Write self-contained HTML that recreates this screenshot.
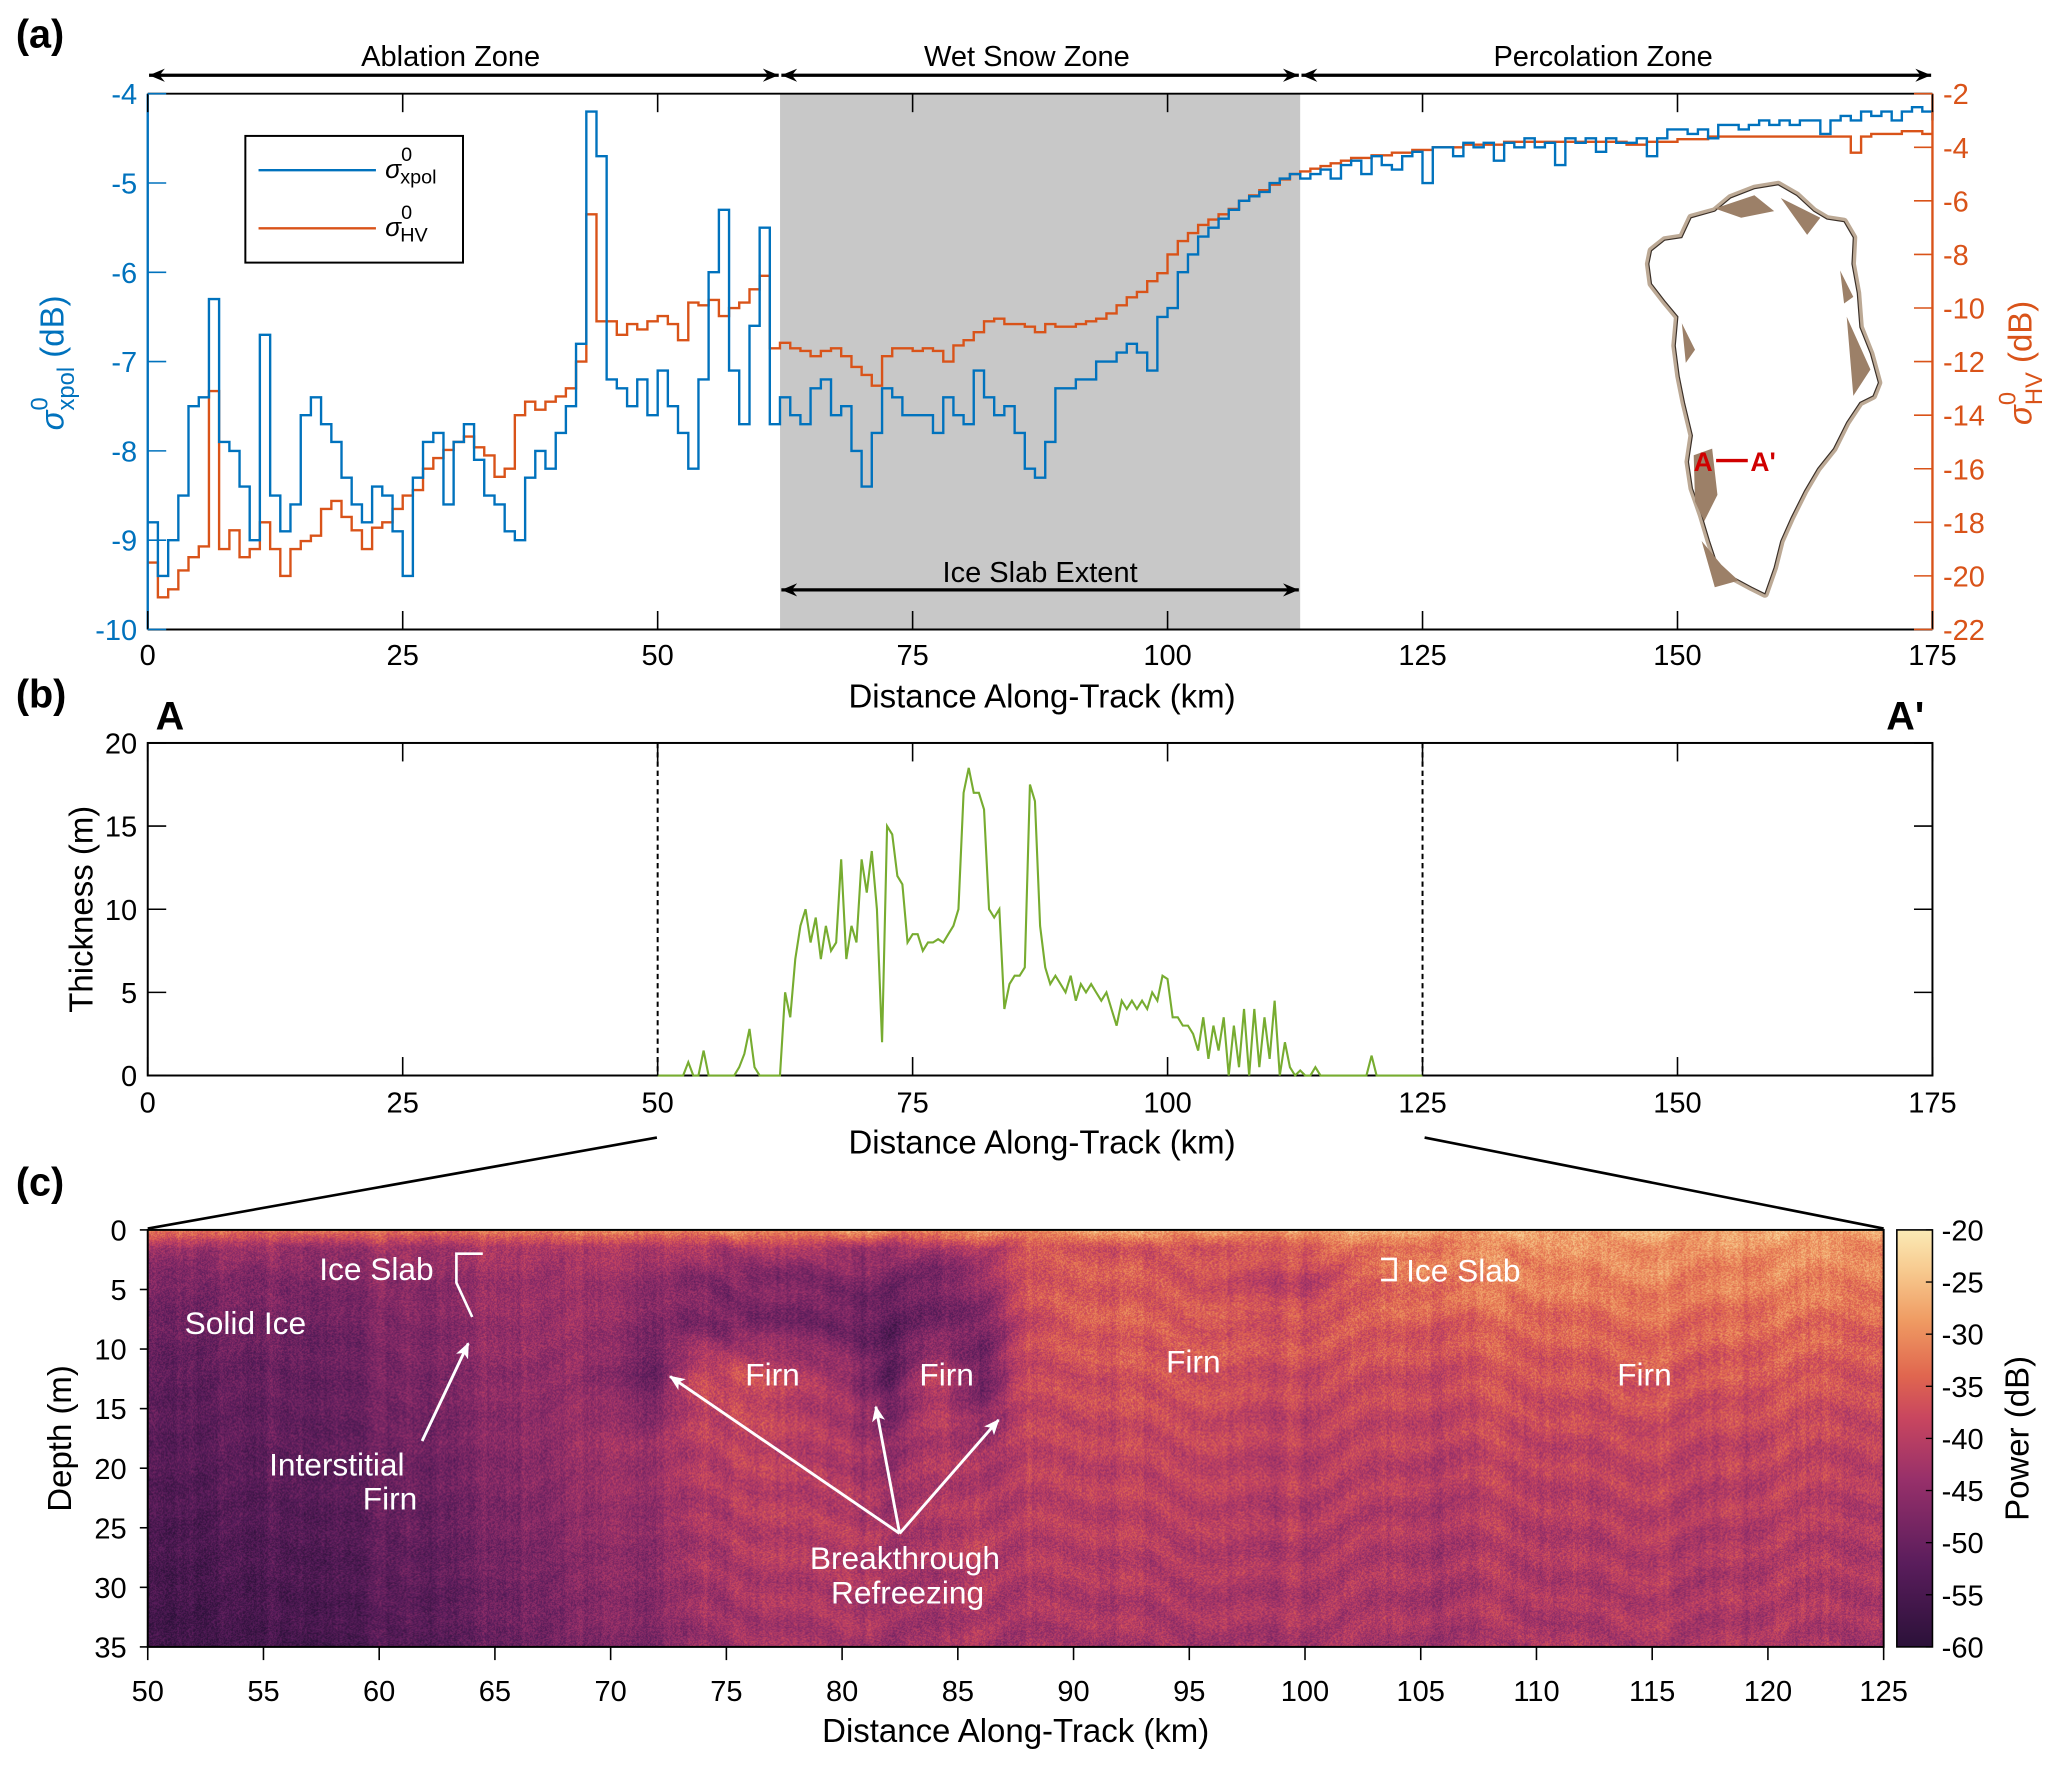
<!DOCTYPE html>
<html><head><meta charset="utf-8"><style>
html,body{margin:0;padding:0;background:#fff;}
#wrap{position:relative;width:2067px;height:1767px;overflow:hidden;}
svg{position:absolute;left:0;top:0;}
#radar{position:absolute;}
text{font-family:"Liberation Sans",Arial,sans-serif;}
</style></head><body>
<div id="wrap">
<canvas id="radar" width="1740" height="418"></canvas>
<svg id="fig" width="2067" height="1767" viewBox="0 0 1567 1339" preserveAspectRatio="none" xmlns="http://www.w3.org/2000/svg"></svg>
</div>
<script>
// ---------- DATA ----------
const xpolVals = [-8.8,-9.4,-9.0,-8.5,-7.5,-7.4,-6.3,-7.9,-8.0,-8.4,-9.0,-6.7,-8.5,-8.9,-8.6,-7.6,-7.4,-7.7,-7.9,-8.3,-8.6,-8.8,-8.4,-8.5,-8.9,-9.4,-8.3,-7.9,-7.8,-8.6,-7.9,-7.7,-8.1,-8.5,-8.6,-8.9,-9.0,-8.3,-8.0,-8.2,-7.8,-7.5,-6.8,-4.2,-4.7,-7.2,-7.3,-7.5,-7.2,-7.6,-7.1,-7.5,-7.8,-8.2,-7.2,-6.0,-5.3,-7.1,-7.7,-6.6,-5.5,-7.7,-7.4,-7.6,-7.7,-7.3,-7.2,-7.6,-7.5,-8.0,-8.4,-7.8,-7.3,-7.4,-7.6,-7.6,-7.6,-7.8,-7.4,-7.6,-7.7,-7.1,-7.4,-7.6,-7.5,-7.8,-8.2,-8.3,-7.9,-7.3,-7.3,-7.2,-7.2,-7.0,-7.0,-6.9,-6.8,-6.9,-7.1,-6.5,-6.4,-6.0,-5.8,-5.6,-5.5,-5.4,-5.3,-5.2,-5.15,-5.1,-5.0,-4.95,-4.9,-4.95,-4.9,-4.85,-4.95,-4.8,-4.75,-4.9,-4.7,-4.8,-4.85,-4.7,-4.65,-5.0,-4.6,-4.6,-4.7,-4.55,-4.6,-4.55,-4.75,-4.55,-4.6,-4.5,-4.6,-4.55,-4.8,-4.5,-4.55,-4.5,-4.65,-4.5,-4.55,-4.55,-4.5,-4.7,-4.5,-4.4,-4.4,-4.45,-4.4,-4.5,-4.35,-4.35,-4.4,-4.35,-4.3,-4.35,-4.3,-4.35,-4.3,-4.3,-4.45,-4.3,-4.25,-4.3,-4.2,-4.25,-4.2,-4.3,-4.2,-4.15,-4.2,-4.3];
const hvVals = [-19.5,-20.8,-20.5,-19.8,-19.3,-18.9,-13.1,-19.0,-18.3,-19.3,-19.0,-18.0,-19.0,-20.0,-19.0,-18.7,-18.5,-17.5,-17.2,-17.8,-18.3,-19.0,-18.2,-18.0,-17.5,-17.0,-16.8,-16.0,-15.6,-15.3,-15.0,-14.8,-15.2,-15.5,-16.3,-16.0,-14.0,-13.5,-13.8,-13.5,-13.3,-13.0,-12.0,-6.5,-10.5,-10.5,-11.0,-10.6,-10.8,-10.5,-10.3,-10.6,-11.2,-9.8,-9.9,-9.7,-10.3,-10.0,-9.8,-9.3,-8.8,-11.5,-11.3,-11.5,-11.6,-11.8,-11.6,-11.5,-11.8,-12.2,-12.5,-12.9,-11.8,-11.5,-11.5,-11.6,-11.5,-11.6,-12.0,-11.4,-11.2,-10.9,-10.5,-10.4,-10.6,-10.6,-10.7,-10.9,-10.6,-10.7,-10.7,-10.6,-10.5,-10.4,-10.2,-9.9,-9.6,-9.4,-9.0,-8.7,-8.0,-7.5,-7.2,-6.9,-6.7,-6.5,-6.3,-6.0,-5.8,-5.6,-5.4,-5.2,-5.0,-4.9,-4.8,-4.7,-4.6,-4.5,-4.4,-4.4,-4.3,-4.3,-4.2,-4.2,-4.1,-4.1,-4.0,-4.0,-4.0,-3.9,-3.9,-3.9,-3.9,-3.8,-3.8,-3.8,-3.8,-3.8,-3.8,-3.8,-3.8,-3.8,-3.8,-3.8,-3.8,-3.9,-3.9,-3.8,-3.8,-3.8,-3.7,-3.7,-3.7,-3.6,-3.6,-3.6,-3.6,-3.6,-3.6,-3.6,-3.6,-3.6,-3.6,-3.6,-3.6,-3.6,-3.6,-4.2,-3.6,-3.5,-3.5,-3.5,-3.4,-3.4,-3.5,-3.5];
const thickStartKm = 50, thickStepKm = 0.5;
const thicknessVals = [0,0,0,0,0,0,0.8,0,0,1.5,0,0,0,0,0,0,0.5,1.3,2.8,0.5,0,0,0,0,0,5,3.5,7,9,10,8,9.5,7,9,7.5,8,13,7,9,8,13,11,13.5,10,2,15,14.5,12,11.5,8,8.5,8.5,7.5,8,8,8.2,8,8.5,9,10,17,18.5,17,17,16,10,9.5,10,4,5.5,6,6,6.5,17.5,16.5,9,6.5,5.5,6,5.5,5,6,4.5,5.5,5,5.5,5,4.5,5,4,3,4.5,4,4.5,4,4.5,4,5,4.5,6,5.8,3.5,3.5,3,3,2.5,1.5,3.5,1,3,1.5,3.5,0,3,0.5,4,0,4,0.5,3.5,1,4.5,0,2,0.5,0,0.3,0,0,0.5,0,0,0,0,0,0,0,0,0,0,1.2,0,0,0,0,0,0,0,0,0,0];
const aTicksX = [0,25,50,75,100,125,150,175];
const aTicksL = [-4,-5,-6,-7,-8,-9,-10];
const aTicksR = [-2,-4,-6,-8,-10,-12,-14,-16,-18,-20,-22];
const bTicksY = [0,5,10,15,20];
const cTicksX = [50,55,60,65,70,75,80,85,90,95,100,105,110,115,120,125];
const cTicksY = [0,5,10,15,20,25,30,35];
const cbTicks = [-20,-25,-30,-35,-40,-45,-50,-55,-60];
const radarKm = [50,58,63,65,68,72,73.5,76,80,82,84,86,87.5,90,95,100,105,115,125];
const radarDepth = [0,1.5,4,8,12,18,26,35];
const pow0  = [-33,-33,-33,-32,-31,-31,-30,-30,-30,-30,-30,-30,-30,-28,-28,-28,-27,-27,-27];
const pow1  = [-44,-44,-43,-42,-41,-41,-41,-42,-43,-43,-43,-42,-38,-36,-36,-35,-31,-30,-30];
const pow4  = [-48,-47,-45,-44,-43,-45,-46,-47,-48,-48,-48,-46,-37,-35,-36,-40,-31,-31,-31];
const pow8  = [-50,-49,-46,-45,-43,-47,-47,-48,-50,-52,-48,-50,-40,-35,-35,-36,-35,-34,-34];
const pow12 = [-52,-50,-47,-46,-44,-50,-38,-37,-44,-52,-38,-52,-39,-37,-36,-38,-37,-36,-36];
const pow18 = [-53,-51,-48,-47,-44,-43,-40,-39,-42,-45,-40,-45,-40,-39,-38,-40,-39,-39,-39];
const pow26 = [-55,-53,-50,-49,-46,-45,-42,-41,-41,-42,-41,-41,-41,-40,-40,-41,-41,-41,-41];
const pow35 = [-57,-55,-52,-51,-48,-47,-44,-43,-43,-43,-43,-43,-43,-42,-42,-42,-42,-42,-42];

// ---------- helpers ----------
const NS='http://www.w3.org/2000/svg';
const svg=document.getElementById('fig');
const VW=1567,VH=1339,SX=2067/VW,SY=1767/VH;
function mk(tag,attrs,parent,txt){const e=document.createElementNS(NS,tag);for(const k in attrs)e.setAttribute(k,attrs[k]);if(txt!==undefined)e.textContent=txt;(parent||svg).appendChild(e);return e;}
const BLUE='#0072BD',ORANGE='#D95319',GREEN='#77AC30';
const defs=mk('defs',{});
function marker(id,rev){const m=mk('marker',{id:id,markerWidth:12,markerHeight:10,refX:rev?0:12,refY:5,orient:'auto',markerUnits:'userSpaceOnUse'},defs);mk('path',{d:rev?'M12,0 L0,5 L12,10 L8,5 Z':'M0,0 L12,5 L0,10 L4,5 Z',fill:'#000'},m);}
marker('ah',false);marker('at',true);
(function(){const m=mk('marker',{id:'wh',markerWidth:12,markerHeight:12,refX:11,refY:6,orient:'auto',markerUnits:'userSpaceOnUse'},defs);mk('path',{d:'M0,1 L12,6 L0,11 L3,6 Z',fill:'#fff'},m);})();

// ---------- Panel (a) ----------
const AX0=112,AX1=1465,AY0=71,AY1=477;
const xA=km=>AX0+km/175*(AX1-AX0);
const yL=v=>AY0+(-4-v)/6*(AY1-AY0);
const yR=v=>AY0+(-2-v)/20*(AY1-AY0);
const ga=mk('g',{},svg);
let e=mk('text',{x:12,y:36,'font-size':30,'font-weight':'bold'},ga,'(a)');
e=mk('rect',{x:xA(62),y:AY0,width:xA(113)-xA(62),height:AY1-AY0,fill:'#c8c8c8'},ga);
const zones=[['Ablation Zone',0,62],['Wet Snow Zone',62,113],['Percolation Zone',113,175]];
zones.forEach(z=>{const l=mk('line',{x1:xA(z[1])+1,y1:57,x2:xA(z[2])-1,y2:57,stroke:'#000','stroke-width':2.5,'marker-end':'url(#ah)','marker-start':'url(#at)'},ga);
 const t=mk('text',{x:(xA(z[1])+xA(z[2]))/2-10,y:50,'font-size':22,'text-anchor':'middle'},ga,z[0]);});
e=mk('line',{x1:xA(62)+1,y1:447,x2:xA(113)-1,y2:447,stroke:'#000','stroke-width':2.5,'marker-end':'url(#ah)','marker-start':'url(#at)'},ga);
e=mk('text',{x:(xA(62)+xA(113))/2,y:441,'font-size':22,'text-anchor':'middle'},ga,'Ice Slab Extent');
// Greenland inset
const gm=mk('g',{},ga);
const gp='M1252,190 L1262,182 L1275,180 L1282,165 L1300,160 L1312,150 L1330,143 L1348,140 L1362,148 L1375,160 L1385,166 L1398,168 L1405,180 L1404,200 L1408,222 L1410,248 L1418,268 L1424,290 L1420,300 L1410,305 L1400,320 L1390,340 L1378,355 L1368,372 L1358,392 L1350,410 L1345,430 L1338,450 L1328,445 L1315,438 L1302,428 L1296,410 L1290,390 L1283,370 L1280,350 L1283,330 L1277,305 L1273,285 L1270,262 L1272,240 L1262,228 L1252,215 L1250,200 Z';
mk('path',{d:gp,fill:'#fff',stroke:'#a08468','stroke-width':6,'stroke-opacity':0.7,'stroke-linejoin':'round'},gm);
mk('path',{d:gp,fill:'#fff',stroke:'#3b3028','stroke-width':0.9},gm);
mk('path',{d:'M1284,345 L1298,340 L1302,375 L1292,395 L1285,380 Z M1290,410 L1305,428 L1318,440 L1300,445 Z M1300,158 L1330,148 L1345,160 L1320,165 Z M1350,150 L1380,165 L1370,178 Z M1400,240 L1418,280 L1405,300 Z M1395,205 L1405,225 L1398,230 Z M1275,245 L1285,265 L1278,275 Z',fill:'#9c8068'},gm);
mk('text',{x:1284,y:357,'font-size':20,'font-weight':'bold',fill:'#d00000'},gm,'A');
mk('line',{x1:1301,y1:349,x2:1325,y2:349,stroke:'#d00000','stroke-width':2.5},gm);
mk('text',{x:1327,y:357,'font-size':20,'font-weight':'bold',fill:'#d00000'},gm,"A'");
function stepPath(vals,yf){let d='';for(let i=0;i<vals.length;i++){const x0=xA(i),x1=xA(Math.min(i+1,175)),y=yf(vals[i]);d+=(i===0?'M':'L')+x0.toFixed(1)+','+y.toFixed(1)+' L'+x1.toFixed(1)+','+y.toFixed(1)+' ';}return d;}
e=mk('path',{d:stepPath(hvVals,yR),fill:'none',stroke:ORANGE,'stroke-width':1.8},ga);
e=mk('path',{d:stepPath(xpolVals,yL),fill:'none',stroke:BLUE,'stroke-width':1.8},ga);
mk('line',{x1:AX0,y1:AY0,x2:AX1,y2:AY0,stroke:'#000','stroke-width':1.5},ga);
mk('line',{x1:AX0,y1:AY1,x2:AX1,y2:AY1,stroke:'#000','stroke-width':1.5},ga);
e=mk('line',{x1:AX0,y1:AY0,x2:AX0,y2:AY1,stroke:BLUE,'stroke-width':1.8},ga);
e=mk('line',{x1:AX1,y1:AY0,x2:AX1,y2:AY1,stroke:ORANGE,'stroke-width':1.8},ga);
aTicksX.forEach(k=>{const x=xA(k);mk('line',{x1:x,y1:AY1,x2:x,y2:AY1-14,stroke:'#000','stroke-width':1.2},ga);mk('line',{x1:x,y1:AY0,x2:x,y2:AY0+14,stroke:'#000','stroke-width':1.2},ga);
 const t=mk('text',{x:x,y:504,'font-size':22,'text-anchor':'middle'},ga,String(k));});
aTicksL.forEach(v=>{const y=yL(v);mk('line',{x1:AX0,y1:y,x2:AX0+14,y2:y,stroke:BLUE,'stroke-width':1.2},ga);const t=mk('text',{x:104,y:y+8,'font-size':22,'text-anchor':'end',fill:BLUE},ga,String(v));});
aTicksR.forEach(v=>{const y=yR(v);mk('line',{x1:AX1,y1:y,x2:AX1-14,y2:y,stroke:ORANGE,'stroke-width':1.2},ga);const t=mk('text',{x:1473,y:y+8,'font-size':22,fill:ORANGE},ga,String(v));});
e=mk('text',{x:790,y:536,'font-size':25,'text-anchor':'middle'},ga,'Distance Along-Track (km)');
function sigmaTitle(x,y,sub,color,name){const t=mk('text',{transform:`translate(${x},${y}) rotate(-90)`,'font-size':25,'text-anchor':'middle',fill:color},ga);
 mk('tspan',{'font-style':'italic'},t,'σ');mk('tspan',{'font-size':18,dy:-12},t,'0');mk('tspan',{'font-size':18,dy:20,dx:-10},t,sub);mk('tspan',{dy:-8},t,' (dB)');}
sigmaTitle(48,275,'xpol',BLUE,'left-y-axis-title');
sigmaTitle(1540,275,'HV',ORANGE,'right-y-axis-title');
const lg=mk('g',{},ga);
mk('rect',{x:186,y:103,width:165,height:96,fill:'#fff',stroke:'#000','stroke-width':1.5},lg);
[[129,BLUE,'xpol'],[173,ORANGE,'HV']].forEach(r=>{const le=mk('g',{},lg);
 mk('line',{x1:196,y1:r[0],x2:285,y2:r[0],stroke:r[1],'stroke-width':1.8},le);
 const t=mk('text',{x:292,y:r[0]+6,'font-size':20},le);mk('tspan',{'font-style':'italic'},t,'σ');mk('tspan',{'font-size':15,dy:-13},t,'0');mk('tspan',{'font-size':15,dy:17,dx:-9},t,r[2]);});

// ---------- Panel (b) ----------
const BY0=563,BY1=815;
const yB=v=>BY1-v/20*(BY1-BY0);
const gb=mk('g',{},svg);
e=mk('text',{x:12,y:536,'font-size':30,'font-weight':'bold'},gb,'(b)');
e=mk('text',{x:118,y:553,'font-size':30,'font-weight':'bold'},gb,'A');
e=mk('text',{x:1430,y:553,'font-size':30,'font-weight':'bold'},gb,"A'");
mk('rect',{x:AX0,y:BY0,width:AX1-AX0,height:BY1-BY0,fill:'none',stroke:'#000','stroke-width':1.5},gb);
[50,125].forEach(k=>{const l=mk('line',{x1:xA(k),y1:BY0,x2:xA(k),y2:BY1,stroke:'#000','stroke-width':1.5,'stroke-dasharray':'4,3'},gb);});
let dB='';thicknessVals.forEach((v,i)=>{const k=thickStartKm+i*thickStepKm;dB+=(i?'L':'M')+xA(k).toFixed(1)+','+yB(v).toFixed(1)+' ';});
e=mk('path',{d:dB,fill:'none',stroke:GREEN,'stroke-width':1.6},gb);
aTicksX.forEach(k=>{const x=xA(k);mk('line',{x1:x,y1:BY1,x2:x,y2:BY1-14,stroke:'#000','stroke-width':1.2},gb);mk('line',{x1:x,y1:BY0,x2:x,y2:BY0+14,stroke:'#000','stroke-width':1.2},gb);
 const t=mk('text',{x:x,y:843,'font-size':22,'text-anchor':'middle'},gb,String(k));});
bTicksY.forEach(v=>{const y=yB(v);mk('line',{x1:AX0,y1:y,x2:AX0+14,y2:y,stroke:'#000','stroke-width':1.2},gb);mk('line',{x1:AX1,y1:y,x2:AX1-14,y2:y,stroke:'#000','stroke-width':1.2},gb);
 const t=mk('text',{x:104,y:y+8,'font-size':22,'text-anchor':'end'},gb,String(v));});
e=mk('text',{x:790,y:874,'font-size':25,'text-anchor':'middle'},gb,'Distance Along-Track (km)');
e=mk('text',{transform:'translate(70,689) rotate(-90)','font-size':25,'text-anchor':'middle'},gb,'Thickness (m)');
e=mk('line',{x1:498,y1:862,x2:112,y2:931,stroke:'#000','stroke-width':2},gb);
e=mk('line',{x1:1080,y1:862,x2:1428,y2:931,stroke:'#000','stroke-width':2},gb);

// ---------- Panel (c) ----------
const CX0=112,CX1=1428,CY0=932,CY1=1248;
const xC=k=>CX0+(k-50)/75*(CX1-CX0);
const yC=d=>CY0+d/35*(CY1-CY0);
const gc=mk('g',{},svg);
e=mk('text',{x:12,y:906,'font-size':30,'font-weight':'bold'},gc,'(c)');
mk('rect',{x:CX0,y:CY0,width:CX1-CX0,height:CY1-CY0,fill:'none',stroke:'#000','stroke-width':1.5},gc);
cTicksX.forEach(k=>{const x=xC(k);mk('line',{x1:x,y1:CY1,x2:x,y2:CY1+10,stroke:'#000','stroke-width':1.2},gc);const t=mk('text',{x:x,y:1289,'font-size':22,'text-anchor':'middle'},gc,String(k));});
cTicksY.forEach(v=>{const y=yC(v);mk('line',{x1:CX0,y1:y,x2:CX0-6,y2:y,stroke:'#000','stroke-width':1.2},gc);const t=mk('text',{x:96,y:y+8,'font-size':22,'text-anchor':'end'},gc,String(v));});
e=mk('text',{x:770,y:1320,'font-size':25,'text-anchor':'middle'},gc,'Distance Along-Track (km)');
e=mk('text',{transform:'translate(54,1090) rotate(-90)','font-size':25,'text-anchor':'middle'},gc,'Depth (m)');
const cmapStops=[[0,[43,17,57]],[0.2,[90,29,92]],[0.4,[151,48,106]],[0.55,[201,70,95]],[0.65,[224,102,79]],[0.78,[239,154,98]],[0.9,[247,201,142]],[1,[251,234,181]]];
function cmap(t){t=Math.max(0,Math.min(1,t));for(let i=1;i<cmapStops.length;i++){if(t<=cmapStops[i][0]){const a=cmapStops[i-1],b=cmapStops[i],f=(t-a[0])/(b[0]-a[0]);return [0,1,2].map(j=>Math.round(a[1][j]+f*(b[1][j]-a[1][j])));}}return cmapStops[cmapStops.length-1][1];}
const lgr=mk('linearGradient',{id:'cbg',x1:0,y1:1,x2:0,y2:0},defs);
cmapStops.forEach(s=>mk('stop',{offset:s[0],'stop-color':`rgb(${s[1].join(',')})`},lgr));
const CBX=1438,CBW=27;
e=mk('rect',{x:CBX,y:CY0,width:CBW,height:CY1-CY0,fill:'url(#cbg)',stroke:'#000','stroke-width':1.2},gc);
const yCB=v=>CY0+(-20-v)/40*(CY1-CY0);
cbTicks.forEach(v=>{const y=yCB(v);mk('line',{x1:CBX+CBW,y1:y,x2:CBX+CBW-5,y2:y,stroke:'#000','stroke-width':1},gc);const t=mk('text',{x:1472,y:y+8,'font-size':22},gc,String(v));});
e=mk('text',{transform:'translate(1538,1090) rotate(-90)','font-size':25,'text-anchor':'middle'},gc,'Power (dB)');
const ann=mk('g',{fill:'#fff','font-size':24},gc);
[['Ice Slab',242,970],['Solid Ice',140,1011],['Interstitial',204,1118],['Firn',275,1144],['Firn',565,1050],['Firn',697,1050],['Firn',884,1040],['Firn',1226,1050],['Ice Slab',1066,971],['Breakthrough',614,1189],['Refreezing',630,1215]].forEach(a=>{const t=mk('text',{x:a[1],y:a[2]},ann,a[0]);});
[[320,1092,355,1018],[682,1162,508,1043],[682,1162,664,1066],[682,1162,757,1076]].forEach(a=>{const l=mk('line',{x1:a[0],y1:a[1],x2:a[2],y2:a[3],stroke:'#fff','stroke-width':2.2,'marker-end':'url(#wh)'},ann);});
mk('path',{d:'M366,950 L346,950 L346,972 L358,998',stroke:'#fff','stroke-width':2,fill:'none'},ann);
mk('path',{d:'M1047,954 L1058,954 L1058,970 L1047,970',stroke:'#fff','stroke-width':2,fill:'none'},ann);

// ---------- radargram canvas ----------
(function(){
const cv=document.getElementById('radar');
cv.style.left=(CX0*SX)+'px';cv.style.top=(CY0*SY)+'px';cv.style.width=((CX1-CX0)*SX)+'px';cv.style.height=((CY1-CY0)*SY)+'px';
const ctx=cv.getContext('2d');const W=cv.width,H=cv.height;
const img=ctx.createImageData(W,H);const profs=[pow0,pow1,pow4,pow8,pow12,pow18,pow26,pow35];
let s=12345;const rnd=()=>{s=(s*1103515245+12345)&0x7fffffff;return s/0x7fffffff;};
function interp(arr,xs,x){if(x<=xs[0])return arr[0];for(let i=1;i<xs.length;i++)if(x<=xs[i]){const f=(x-xs[i-1])/(xs[i]-xs[i-1]);return arr[i-1]+f*(arr[i]-arr[i-1]);}return arr[arr.length-1];}
let colOff=0;
for(let px=0;px<W;px++){const km=50+px/W*75;const col=profs.map(p=>interp(p,radarKm,km));
 colOff=colOff*0.8+(rnd()-0.5)*1.6;
 const phase=Math.sin(km*0.37)*2.2+Math.sin(km*1.3)*0.7;
 const layerAmp=km>73?1.3:0.6;
 for(let py=0;py<H;py++){const d=py/H*35;let v=interp(col,radarDepth,d);
  v+=Math.sin((d+phase)*1.7)*layerAmp+colOff+(rnd()-0.5)*8;
  const c=cmap((v+60)/40);const o=(py*W+px)*4;img.data[o]=c[0];img.data[o+1]=c[1];img.data[o+2]=c[2];img.data[o+3]=255;}}
ctx.putImageData(img,0,0);
})();
</script>
</body></html>
